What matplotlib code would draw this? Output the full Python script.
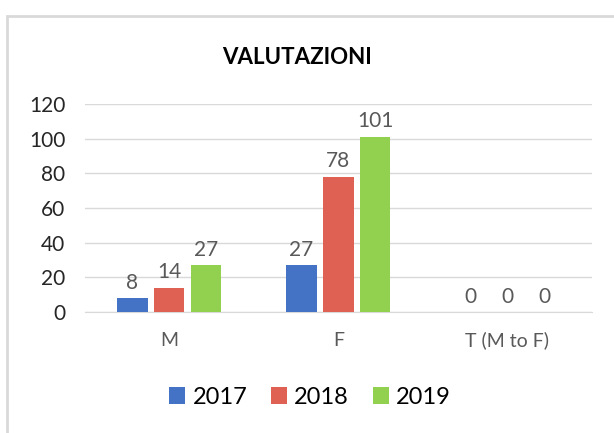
import matplotlib.pyplot as plt
import numpy as np
from matplotlib.patches import Rectangle

categories = ["M", "F", "T (M to F)"]
years = ["2017", "2018", "2019"]
values_2017 = [8, 27, 0]
values_2018 = [14, 78, 0]
values_2019 = [27, 101, 0]
colors = ["#4472C4", "#DE6153", "#92D050"]

plt.rcParams["font.family"] = ["Lato", "DejaVu Sans"]

fig = plt.figure(figsize=(6.14, 4.33), dpi=100)
ax = fig.add_axes([0.138, 0.279, 0.826, 0.481])

# chart border like Excel
fig.patches.append(Rectangle((7 / 614, -0.05), 1.0, 1 - 16 / 433 + 0.05,
                             transform=fig.transFigure, fill=False,
                             edgecolor="#D9D9D9", linewidth=2))

x = np.arange(len(categories))
width = 0.18
step = 0.218
series = [values_2017, values_2018, values_2019]
for i, (vals, year) in enumerate(zip(series, years)):
    bars = ax.bar(x + (i - 1) * step, vals, width, color=colors[i], label=year, zorder=3)
    ax.bar_label(bars, padding=4, fontsize=15, color="#595959")

ax.set_xlim(-0.5, 2.5)
ax.set_ylim(0, 120)
ax.set_yticks(range(0, 121, 20))
ax.set_xticks(x)
ax.set_xticklabels(categories, color="#595959")
ax.tick_params(axis="y", length=0, labelsize=15, pad=14, labelcolor="#262626")
ax.tick_params(axis="x", length=0, labelsize=14, pad=14)
ax.grid(axis="y", color="#D9D9D9", linewidth=1, zorder=0)
for s in ["top", "right", "left"]:
    ax.spines[s].set_visible(False)
ax.spines["bottom"].set_color("#D9D9D9")

fig.text(297 / 614, 1 - 57 / 433, "VALUTAZIONI", ha="center", va="center",
         fontsize=16, fontweight="bold", color="#000000")

fig.legend(loc="center", bbox_to_anchor=(310 / 614, 1 - 397 / 433), ncol=3,
           frameon=False, fontsize=17, handlelength=0.7, handleheight=0.7,
           handletextpad=0.3, columnspacing=1.0)

fig.savefig("out.png", dpi=100)
